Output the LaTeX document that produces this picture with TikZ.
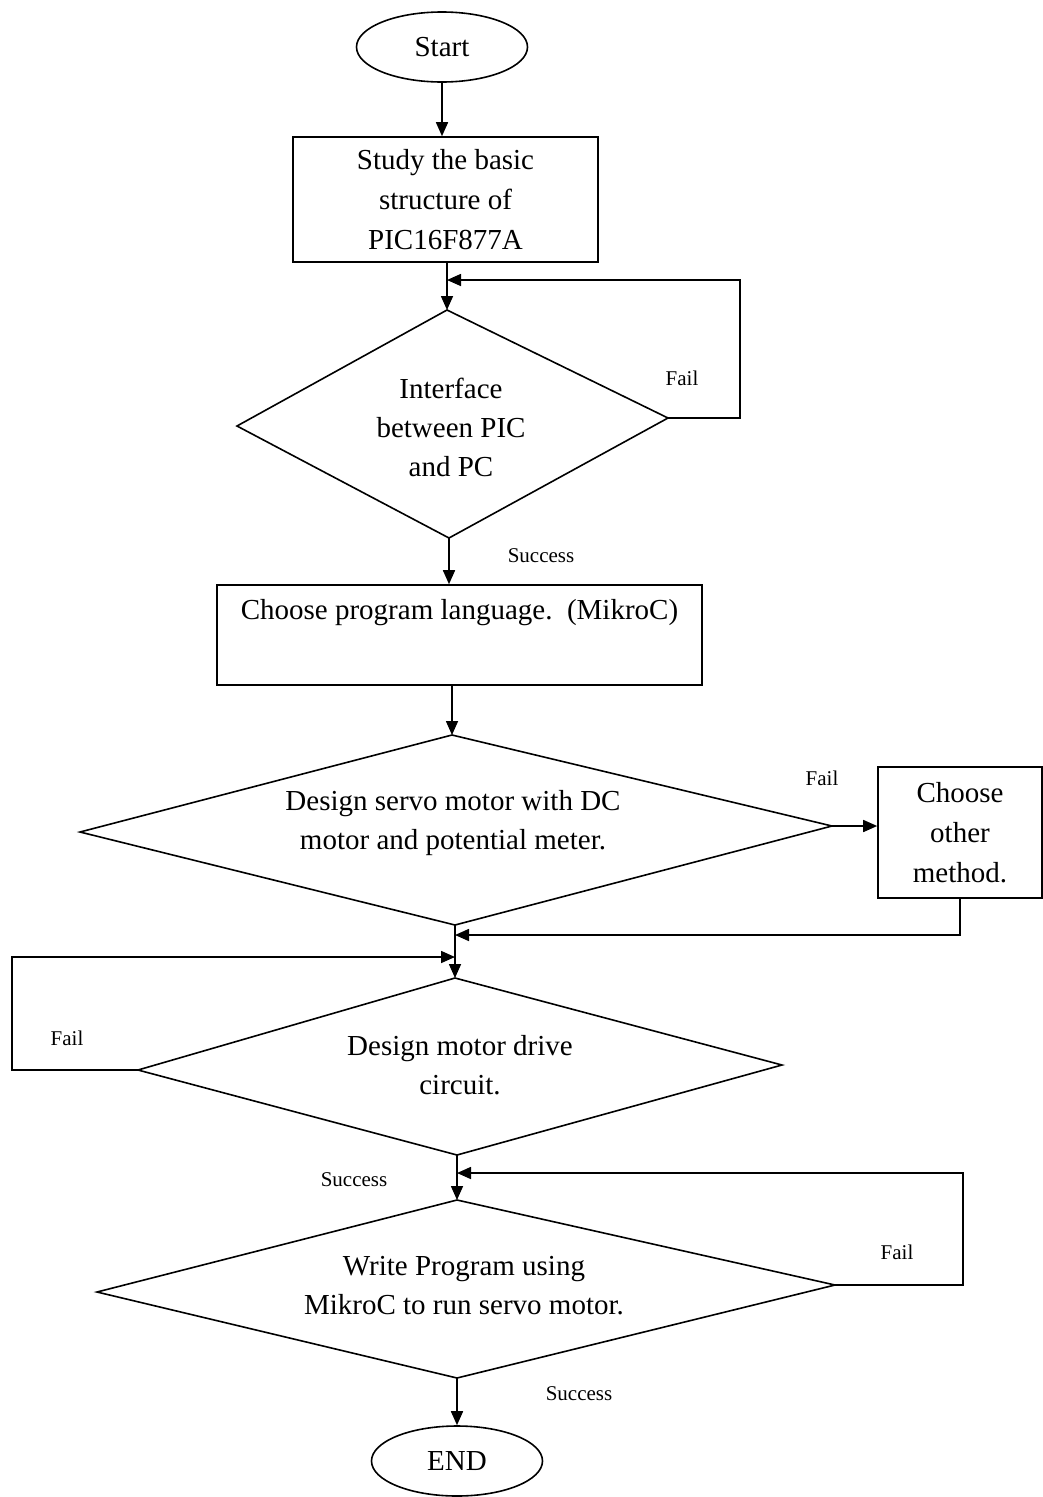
\documentclass[tikz,border=0pt]{standalone}
\usepackage{fontspec}
\setmainfont{Liberation Serif}
\usetikzlibrary{shapes.geometric,arrows.meta}
\begin{document}
\begin{tikzpicture}[x=1pt,y=-1pt,
  line width=1.6pt,
  arr/.style={-{Triangle[length=14pt,width=12pt]}},
  term/.style={draw,ellipse,minimum width=171pt,minimum height=70pt,inner sep=0pt,font=\fontsize{29}{40}\selectfont},
  proc/.style={draw,rectangle,inner sep=0pt,align=center,font=\fontsize{29}{40}\selectfont},
  dtext/.style={align=center,font=\fontsize{29}{39}\selectfont},
  lbl/.style={font=\fontsize{21}{24}\selectfont}]
\useasboundingbox (0,0) rectangle (1043,1497);

% terminals and boxes
\node[term] (start) at (442,47) {Start};
\node[proc,minimum width=305pt,minimum height=125pt] (box1) at (445.5,199.5)
  {Study the basic\\structure of\\PIC16F877A};
\node[proc,minimum width=485pt,minimum height=100pt] (box2) at (459.5,635)
  {Choose program language.\ \ (MikroC)\\\strut};
\node[proc,minimum width=164pt,minimum height=131pt] (box3) at (960,832.5)
  {Choose\\other\\method.};
\node[term] (end) at (457,1461) {END};

% diamond 1
\coordinate (d1t) at (447,310);
\coordinate (d1r) at (668,418);
\coordinate (d1b) at (449,538);
\coordinate (d1l) at (237,426);
\draw (d1t) -- (d1r) -- (d1b) -- (d1l) -- cycle;
\node[dtext] (t1) at (451,427) {Interface\\between PIC\\and PC};

% diamond 2
\coordinate (d2t) at (452,735);
\coordinate (d2r) at (832,826);
\coordinate (d2b) at (455,925);
\coordinate (d2l) at (80,832);
\draw (d2t) -- (d2r) -- (d2b) -- (d2l) -- cycle;
\node[dtext] (t2) at (453,823) {Design servo motor with DC\\motor and potential meter.};

% diamond 3
\coordinate (d3t) at (455,978);
\coordinate (d3r) at (782,1065);
\coordinate (d3b) at (457,1155);
\coordinate (d3l) at (138,1070);
\draw (d3t) -- (d3r) -- (d3b) -- (d3l) -- cycle;
\node[dtext] (t3) at (460,1065) {Design motor drive\\circuit.};

% diamond 4
\coordinate (d4t) at (457,1200);
\coordinate (d4r) at (835,1285);
\coordinate (d4b) at (457,1378);
\coordinate (d4l) at (97,1292);
\draw (d4t) -- (d4r) -- (d4b) -- (d4l) -- cycle;
\node[dtext] (t4) at (464,1286) {Write Program using\\MikroC to run servo motor.};

% junction / corner coordinates
\coordinate (j1) at (447,280);
\coordinate (c1) at (740,280);
\coordinate (j2) at (455,935);
\coordinate (j3) at (455,957);
\coordinate (c3) at (12,957);
\coordinate (j4) at (457,1173);
\coordinate (c4) at (963,1173);

% connectors
\draw[arr] (start) -- (start |- box1.north);
\draw[arr] (box1.south -| d1t) -- (d1t);
\draw[arr] (d1r) -| (c1) -- (j1);
\draw[arr] (d1b) -- (d1b |- box2.north);
\draw[arr] (box2.south -| d2t) -- (d2t);
\draw[arr] (d2r) -- (d2r -| box3.west);
\draw[arr] (box3.south) |- (j2);
\draw[arr] (d2b) -- (d3t);
\draw[arr] (d3l) -| (c3) -- (j3);
\draw[arr] (d3b) -- (d4t);
\draw[arr] (d4r) -| (c4) -- (j4);
\draw[arr] (d4b) -- (d4b |- end.north);

% labels
\node[lbl] (f1) at (682,378) {Fail};
\node[lbl] (s1) at (541,556) {Success};
\node[lbl] (f2) at (822,778) {Fail};
\node[lbl] (f3) at (67,1038) {Fail};
\node[lbl] (s3) at (354,1180) {Success};
\node[lbl] (f4) at (897,1252) {Fail};
\node[lbl] (s4) at (579,1394) {Success};
\end{tikzpicture}
\end{document}
